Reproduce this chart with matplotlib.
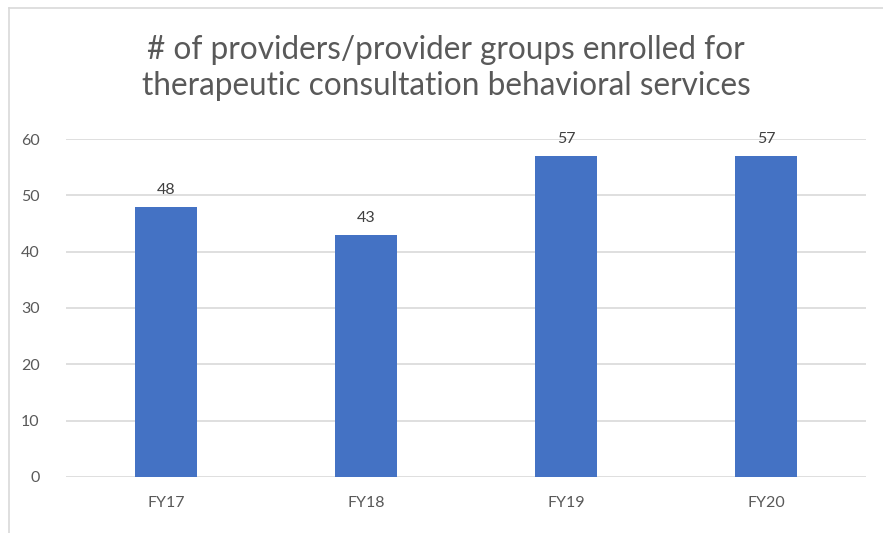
import matplotlib.pyplot as plt
from matplotlib.lines import Line2D

# data
years = ['FY17', 'FY18', 'FY19', 'FY20']
providers = [48, 43, 57, 57]
yticks = [0, 10, 20, 30, 40, 50, 60]

plt.rcParams['font.family'] = ['Lato', 'DejaVu Sans']
text_col = '#595959'
grid_col = '#d9d9d9'

fig = plt.figure(figsize=(8.83, 5.33), dpi=100)
ax = fig.add_axes([0.0747, 0.1051, 0.906, 0.6341])

x = range(len(years))
bars = ax.bar(x, providers, width=0.31, color='#4472C4', zorder=3)
for b, v in zip(bars, providers):
    ax.annotate(str(v), (b.get_x() + b.get_width() / 2, v), xytext=(0, 7),
                textcoords='offset points', ha='center', va='bottom',
                fontsize=11.5, color='#404040')

ax.set_xlim(-0.5, len(years) - 0.5)
ax.set_ylim(0, 60)
ax.set_yticks(yticks)
ax.set_xticks(list(x))
ax.set_xticklabels(years)
ax.yaxis.grid(True, color=grid_col, linewidth=1.2, zorder=0)
for s in ax.spines.values():
    s.set_visible(False)
ax.tick_params(axis='both', length=0, labelsize=11.5, labelcolor=text_col)
ax.tick_params(axis='y', pad=19)
ax.tick_params(axis='x', pad=14)

fig.text(0.505, 0.873,
         '# of providers/provider groups enrolled for\ntherapeutic consultation behavioral services',
         ha='center', va='center', fontsize=22.7, color=text_col, linespacing=1.25)

# chart border (top and left edges visible in the screenshot)
fig.add_artist(Line2D([0.0102, 0.0102], [0, 0.985], color=grid_col, lw=1.2))
fig.add_artist(Line2D([0.0102, 1], [0.985, 0.985], color=grid_col, lw=1.2))

fig.savefig('out.png', dpi=100)
